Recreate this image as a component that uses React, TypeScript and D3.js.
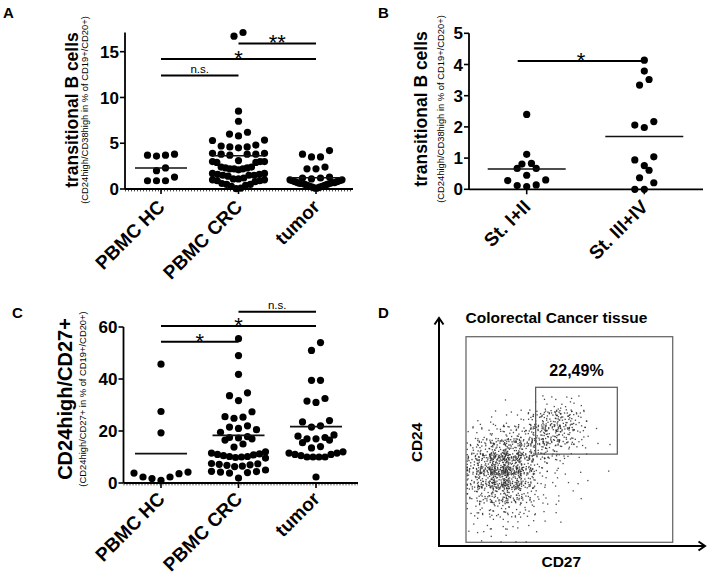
import React from 'react';
import * as d3 from 'd3';

const FONT = '"Liberation Sans", Arial, Helvetica, sans-serif';

// ---------- Panel A / C categories ----------
const groupsAC = ['PBMC HC', 'PBMC CRC', 'tumor'];
const groupsB = ['St. I+II', 'St. III+IV'];

// ---------- Panel A: transitional B cells ----------
const aHC = [3.8, 3.6, 3.7, 3.7, 2.3, 2.0, 1.3, 0.9, 0.9, 0.9];
const aCRC = [17.1, 16.7, 8.5, 7.4, 6.2, 6.0, 5.8, 5.35, 5.3, 4.8, 4.7, 4.6, 4.5, 4.6, 3.9, 3.8, 3.8, 3.7, 3.9, 3.8,
  3.0, 3.0, 2.9, 2.9, 3.0, 3.1, 2.4, 2.3, 2.2, 2.2, 2.1, 2.3, 2.4, 2.2, 1.7, 1.6, 1.5, 1.5, 1.4, 1.6, 1.7, 1.5,
  1.2, 1.1, 1.0, 0.9, 0.9, 1.0, 1.1, 0.8, 0.6, 0.5, 0.4, 0.5, 0.3, 0.1, 0.05];
const aTumor = [4.2, 3.8, 3.5, 3.5, 2.4, 2.2, 2.2, 1.3, 1.2, 1.2, 1.1, 1.0, 1.0, 0.9, 0.9, 0.8, 0.8, 0.7, 0.7, 0.7,
  0.6, 0.6, 0.6, 0.5, 0.5, 0.4, 0.4, 0.3, 0.3, 0.2, 0.2, 0.1, 0.1];
const aMeans = [2.3, 3.64, 1.23];
const aTicks = [0, 5, 10, 15];
const aSig = [
  { from: 0, to: 1, value: 12.4, label: 'n.s.' },
  { from: 0, to: 2, value: 14.2, label: '*' },
  { from: 1, to: 2, value: 15.9, label: '**' },
];

// ---------- Panel B: stages ----------
const bEarly = [2.4, 1.12, 0.83, 0.81, 0.67, 0.67, 0.45, 0.3, 0.28, 0.14, 0.12, 0.09];
const bLate = [4.14, 3.79, 3.52, 3.34, 2.17, 2.06, 1.98, 1.04, 0.94, 0.76, 0.61, 0.37, 0.21, 0.0, 0.0];
const bMeans = [0.65, 1.69];
const bTicks = [0, 1, 2, 3, 4, 5];
const bSig = [{ from: 0, to: 1, value: 4.11, label: '*' }];

// ---------- Panel C: CD24high/CD27+ ----------
const cHC = [45.7, 27.5, 19.3, 4.2, 3.8, 2.3, 1.0, 1.7, 2.3, 3.6];
const cCRC = [55.5, 49, 41.8, 34.7, 33.6, 31.7, 27.4, 25.5, 25.3, 24.9, 22.0, 21.5, 21.0, 20.5, 19.5, 17.8, 17.5,
  17.3, 17.0, 16.5, 15.0, 13.8, 12.0, 11.5, 11.0, 10.8, 10.5, 10.2, 10.0, 9.8, 9.6, 10.2, 11.2, 7.5, 7.2, 6.8,
  6.5, 6.3, 7.0, 7.4, 4.5, 4.2, 4.0, 3.8, 4.4, 5.0, 1.9];
const cTumor = [54, 51, 39.5, 39.5, 32.5, 31.5, 31, 24, 23.5, 22, 21.5, 18.5, 18, 17.5, 17, 17, 16.5, 15.5, 14,
  13.5, 12, 11.5, 11, 10.5, 10, 10, 10, 10, 11, 11.5, 2.3];
const cMeans = [11.3, 18.3, 21.7];
const cTicks = [0, 20, 40, 60];
const cSig = [
  { from: 0, to: 1, value: 54.3, label: '*' },
  { from: 0, to: 2, value: 60.4, label: '*' },
  { from: 1, to: 2, value: 65.9, label: 'n.s.' },
];

// ---------- Panel D: flow cytometry density (event counts per grid cell, rows top -> bottom) ----------
const flowGrid = [
  [0, 0, 1, 0, 1, 4, 8, 10, 6, 0, 0, 0],
  [2, 2, 4, 5, 8, 25, 40, 42, 18, 2, 0, 0],
  [6, 10, 15, 20, 24, 38, 40, 30, 12, 2, 1, 0],
  [15, 30, 48, 55, 38, 32, 24, 14, 4, 1, 0, 0],
  [35, 60, 95, 85, 50, 15, 6, 3, 1, 0, 1, 0],
  [30, 55, 90, 80, 40, 10, 3, 2, 1, 1, 0, 0],
  [16, 30, 45, 45, 25, 7, 3, 2, 2, 0, 0, 0],
  [7, 12, 18, 15, 10, 5, 2, 1, 1, 0, 0, 0],
  [3, 5, 6, 6, 4, 2, 1, 0, 0, 0, 0, 0],
  [1, 2, 3, 2, 1, 1, 0, 0, 0, 0, 0, 0],
];
const flowGridX = [0, 75.6]; // CD27 range covered by grid
const flowGridY = [0, 70]; // CD24 range covered by grid
const outerGate = [0, 100, 0, 100];
const innerGate = [33.7, 73.2, 42.9, 75.4];
const gateLabel = '22,49%';

type Sig = { from: number; to: number; value: number; label: string };

function swarm(values: number[], y: (v: number) => number, spacing: number, rowPx: number, maxHalf: number) {
  const sorted = values.map((v) => ({ v, py: y(v) })).sort((a, b) => a.v - b.v);
  const out: { dx: number; py: number }[] = [];
  let i = 0;
  while (i < sorted.length) {
    const start = sorted[i].py;
    const row: { v: number; py: number }[] = [];
    while (i < sorted.length && start - sorted[i].py < rowPx) { row.push(sorted[i]); i++; }
    const n = row.length;
    const s = n > 1 ? Math.min(spacing, (2 * maxHalf) / (n - 1)) : 0;
    const slots: number[] = [];
    if (n % 2 === 1) {
      slots.push(0);
      for (let k = 1; slots.length < n; k++) { slots.push(-k * s); if (slots.length < n) slots.push(k * s); }
    } else {
      for (let k = 0; slots.length < n; k++) { slots.push(-(k + 0.5) * s); slots.push((k + 0.5) * s); }
    }
    row.forEach((p, j) => out.push({ dx: slots[j], py: p.py }));
  }
  return out;
}

function halton(i: number, b: number) {
  let f = 1, r = 0;
  while (i > 0) { f /= b; r += f * (i % b); i = Math.floor(i / b); }
  return r;
}

interface PanelCfg {
  id: string;
  groups: string[];
  series: number[][];
  means: number[];
  xRange: [number, number];
  y: d3.ScaleLinear<number, number>;
  ticks: number[];
  axisTop: number;
  axisX: [number, number];
  meanHalf: number;
  sig: Sig[];
  sigStartOffset: number;
  dotted: boolean;
  catLabelY: number;
  yLabel: string;
  yLabelX: number;
  yLabelSize: number;
  subLabel: string;
  subLabelX: number;
  labelCenterY: number;
  letter: string;
  letterX: number;
  letterY: number;
  spacing: number;
  maxHalf: number;
}

function DotPanel({ c }: { c: PanelCfg }) {
  const x = d3.scalePoint<string>().domain(c.groups).range(c.xRange);
  const y0 = c.y(0);
  const swarms = c.series.map((s) => swarm(s, c.y, c.spacing, 9, c.maxHalf));
  return (
    <g>
      <text x={c.letterX} y={c.letterY} fontSize={15} fontWeight="bold" fontFamily={FONT}>{c.letter}</text>
      {/* y axis */}
      <line x1={c.axisX[0]} x2={c.axisX[0]} y1={y0} y2={c.y(c.axisTop)} stroke="#000" strokeWidth={1.8} />
      {c.ticks.map((t) => (
        <g key={t}>
          <line x1={c.axisX[0] - 5} x2={c.axisX[0]} y1={c.y(t)} y2={c.y(t)} stroke="#000" strokeWidth={1.6} />
          <text x={c.axisX[0] - 6} y={c.y(t)} dy="0.36em" textAnchor="end" fontSize={17} fontWeight="bold" fontFamily={FONT}>{t}</text>
        </g>
      ))}
      {/* x axis */}
      <line x1={c.axisX[0]} x2={c.axisX[1]} y1={y0} y2={y0} stroke="#000" strokeWidth={1.8} />
      {c.dotted && (
        <line x1={c.axisX[0]} x2={c.axisX[1]} y1={y0 + 1.8} y2={y0 + 1.8} stroke="#000" strokeWidth={1} strokeDasharray="1,2" />
      )}
      {c.groups.map((g) => (
        <g key={g}>
          <line x1={x(g)!} x2={x(g)!} y1={y0} y2={y0 + 5} stroke="#000" strokeWidth={1.6} />
          <g transform={`translate(${x(g)! + 5},${c.catLabelY})`}>
            <g transform="rotate(-45)">
              <text textAnchor="end" fontSize={19} fontWeight="bold" fontFamily={FONT}>{g}</text>
            </g>
          </g>
        </g>
      ))}
      {/* dots */}
      {swarms.map((sw, gi) => sw.map((p, k) => (
        <circle key={`${gi}-${k}`} cx={x(c.groups[gi])! + p.dx} cy={p.py} r={3.6} fill="#000" />
      )))}
      {/* means */}
      {c.means.map((m, gi) => (
        <line key={gi} x1={x(c.groups[gi])! - c.meanHalf} x2={x(c.groups[gi])! + c.meanHalf} y1={c.y(m)} y2={c.y(m)} stroke="#111" strokeWidth={1.6} />
      ))}
      {/* significance */}
      {c.sig.map((s, k) => {
        const x1 = x(c.groups[s.from])! + c.sigStartOffset;
        const x2 = x(c.groups[s.to])!;
        const yy = c.y(s.value);
        const isStar = s.label.includes('*');
        return (
          <g key={k}>
            <line x1={x1} x2={x2} y1={yy} y2={yy} stroke="#000" strokeWidth={2} />
            <text x={(x1 + x2) / 2} y={isStar ? yy + 7 : yy - 2.5} textAnchor="middle" fontSize={isStar ? 22 : 11.5} fontFamily={FONT}>{s.label}</text>
          </g>
        );
      })}
      {/* y labels */}
      <text transform={`translate(${c.yLabelX},${c.labelCenterY}) rotate(-90)`} textAnchor="middle" fontSize={c.yLabelSize} fontWeight="bold" fontFamily={FONT}>{c.yLabel}</text>
      <text transform={`translate(${c.subLabelX},${c.labelCenterY}) rotate(-90)`} textAnchor="middle" fontSize={9.4} fontFamily={FONT}>{c.subLabel}</text>
    </g>
  );
}

function FlowPanel() {
  const fx = d3.scaleLinear().domain([0, 100]).range([466, 672.7]);
  const fy = d3.scaleLinear().domain([0, 100]).range([542.3, 336.7]);
  const nRows = flowGrid.length;
  const nCols = flowGrid[0].length;
  const cw = (flowGridX[1] - flowGridX[0]) / nCols;
  const ch = (flowGridY[1] - flowGridY[0]) / nRows;
  const pts: { x: number; y: number }[] = [];
  flowGrid.forEach((row, r) => {
    row.forEach((n, col) => {
      const xv0 = flowGridX[0] + col * cw;
      const yTop = flowGridY[1] - r * ch;
      for (let k = 1; k <= n; k++) {
        const idx = k + (r * nCols + col) * 37;
        const u = halton(idx, 2) * 1.5 - 0.25;
        const v = halton(idx, 3) * 1.5 - 0.25;
        const xv = Math.max(0.3, Math.min(99.5, xv0 + u * cw));
        const yv = Math.max(0.5, Math.min(99.5, yTop - v * ch));
        pts.push({ x: fx(xv), y: fy(yv) });
      }
    });
  });
  return (
    <g>
      <text x={378} y={318} fontSize={15} fontWeight="bold" fontFamily={FONT}>D</text>
      <text x={556.5} y={323} textAnchor="middle" fontSize={15.5} fontWeight="bold" fontFamily={FONT}>Colorectal Cancer tissue</text>
      {/* arrows */}
      <line x1={439} x2={439} y1={546} y2={318} stroke="#000" strokeWidth={2} />
      <polyline points="434.5,324.5 439,318 443.5,324.5" fill="none" stroke="#000" strokeWidth={2} />
      <line x1={438} x2={705} y1={546} y2={546} stroke="#000" strokeWidth={2} />
      <polyline points="698.5,541.5 705,546 698.5,550.5" fill="none" stroke="#000" strokeWidth={2} />
      {/* gates */}
      <rect x={fx(outerGate[0])} y={fy(outerGate[3])} width={fx(outerGate[1]) - fx(outerGate[0])} height={fy(outerGate[2]) - fy(outerGate[3])} fill="none" stroke="#6a6a6a" strokeWidth={1.3} />
      {pts.map((p, i) => (
        <rect key={i} x={p.x} y={p.y} width={1.3} height={1.3} fill="#2a2a2a" opacity={0.85} />
      ))}
      <rect x={fx(innerGate[0])} y={fy(innerGate[3])} width={fx(innerGate[1]) - fx(innerGate[0])} height={fy(innerGate[2]) - fy(innerGate[3])} fill="none" stroke="#555" strokeWidth={1.2} />
      <text x={(fx(innerGate[0]) + fx(innerGate[1])) / 2} y={376} textAnchor="middle" fontSize={16} fontWeight="bold" fontFamily={FONT}>{gateLabel}</text>
      <text transform="translate(421.5,442.5) rotate(-90)" textAnchor="middle" fontSize={15.5} fontWeight="bold" fontFamily={FONT}>CD24</text>
      <text x={561.3} y={567} textAnchor="middle" fontSize={15.5} fontWeight="bold" fontFamily={FONT}>CD27</text>
    </g>
  );
}

export default function App() {
  const yA = d3.scaleLinear().domain([0, 15]).range([189, 51.7]);
  const yB = d3.scaleLinear().domain([0, 5]).range([189.3, 33.3]);
  const yC = d3.scaleLinear().domain([0, 60]).range([483, 327]);
  const panelA: PanelCfg = {
    id: 'A', groups: groupsAC, series: [aHC, aCRC, aTumor], means: aMeans, xRange: [161, 316], y: yA,
    ticks: aTicks, axisTop: 17.1, axisX: [125, 353], meanHalf: 26, sig: aSig, sigStartOffset: 0, dotted: true,
    catLabelY: 208, yLabel: 'transitional B cells', yLabelX: 78, yLabelSize: 17.5,
    subLabel: '(CD24high/CD38high in % of CD19+/CD20+)', subLabelX: 88, labelCenterY: 110,
    letter: 'A', letterX: 3, letterY: 18, spacing: 9, maxHalf: 26,
  };
  const panelB: PanelCfg = {
    id: 'B', groups: groupsB, series: [bEarly, bLate], means: bMeans, xRange: [526.7, 644.3], y: yB,
    ticks: bTicks, axisTop: 5, axisX: [469, 703], meanHalf: 39, sig: bSig, sigStartOffset: -9, dotted: false,
    catLabelY: 208, yLabel: 'transitional B cells', yLabelX: 427, yLabelSize: 17.5,
    subLabel: '(CD24high/CD38high in % of CD19+/CD20+)', subLabelX: 444, labelCenterY: 109,
    letter: 'B', letterX: 378, letterY: 18, spacing: 9.5, maxHalf: 40,
  };
  const panelC: PanelCfg = {
    id: 'C', groups: groupsAC, series: [cHC, cCRC, cTumor], means: cMeans, xRange: [161, 316], y: yC,
    ticks: cTicks, axisTop: 60, axisX: [123.5, 358], meanHalf: 26, sig: cSig, sigStartOffset: 0, dotted: true,
    catLabelY: 500, yLabel: 'CD24high/CD27+', yLabelX: 72, yLabelSize: 20,
    subLabel: '(CD24high/CD27+ in % of CD19+/CD20+)', subLabelX: 86, labelCenterY: 399,
    letter: 'C', letterX: 12, letterY: 318, spacing: 9, maxHalf: 27,
  };
  return (
    <svg width={710} height={577} style={{ position: 'absolute', left: 0, top: 0, background: '#fff' }}>
      <rect width={710} height={577} fill="#fff" />
      <DotPanel c={panelA} />
      <DotPanel c={panelB} />
      <DotPanel c={panelC} />
      <FlowPanel />
    </svg>
  );
}
